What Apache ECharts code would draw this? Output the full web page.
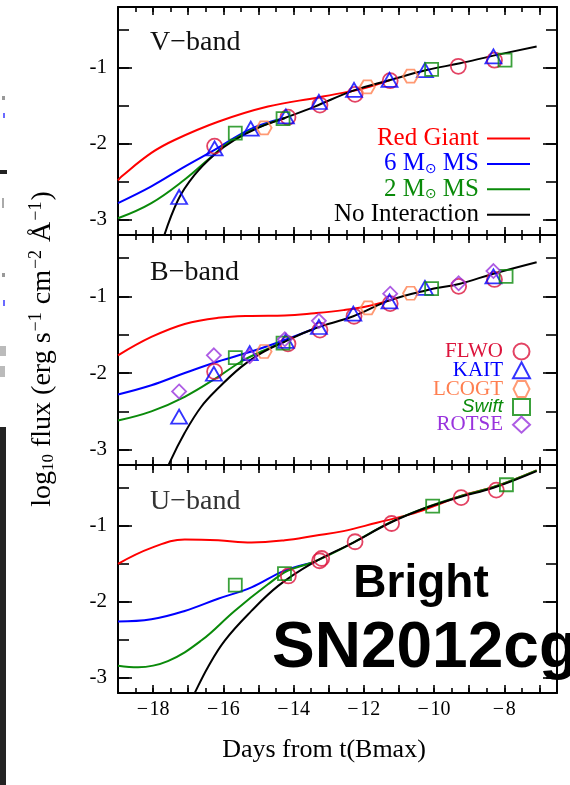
<!DOCTYPE html>
<html><head><meta charset="utf-8">
<script src="https://cdn.jsdelivr.net/npm/echarts@6/dist/echarts.min.js"></script>
<style>html,body{margin:0;padding:0;background:#fff}#c{width:570px;height:785px}</style>
</head><body><div id="c"></div>
<script>
// ---------- data ----------
const xTickValues = [-18, -16, -14, -12, -10, -8];
const xTickText = ['−\u200A18', '−\u200A16', '−\u200A14', '−\u200A12', '−\u200A10', '−\u200A8'];
const yTickValues = [-1, -2, -3];
const yTickLabels = ['-1', '-2', '-3'];
const bandLabels = ['V−band', 'B−band', 'U−band'];
const modelNames = ['Red Giant', '6 M☉ MS', '2 M☉ MS', 'No Interaction'];
const instNames = ['FLWO', 'KAIT', 'LCOGT', 'Swift', 'ROTSE'];

// V band model curves [day, log10 flux]
const vRedGiant = [[-19,-2.48],[-18.9,-2.43],[-18.05,-2.12],[-17.39,-1.95],[-16.15,-1.71],[-14.73,-1.51],[-13.3,-1.39],[-12.5,-1.32],[-12.0,-1.27],[-11.25,-1.16]];
const vMS6 = [[-19,-2.78],[-18.05,-2.56],[-17.1,-2.30],[-16.25,-2.08],[-15.2,-1.80],[-14.25,-1.66]];
const vMS2 = [[-19,-2.98],[-18.05,-2.78],[-17.1,-2.47],[-16.44,-2.21],[-15.87,-1.99],[-15.2,-1.82],[-14.25,-1.66]];
const vNoInt = [[-17.75,-3.3],[-17.29,-2.74],[-16.82,-2.41],[-16.25,-2.14],[-15.68,-1.95],[-15.01,-1.79],[-14.25,-1.66],[-13.4,-1.51],[-12.3,-1.30],[-11.25,-1.16],[-10.21,-1.03],[-9.26,-0.94],[-8.31,-0.84],[-7.08,-0.72]];
// B band
const bRedGiant = [[-19,-1.77],[-18.05,-1.53],[-17.1,-1.36],[-16.15,-1.28],[-15.2,-1.255],[-14.25,-1.25],[-13.4,-1.22],[-12.58,-1.18],[-11.9,-1.13],[-11.25,-1.05]];
const bMS6 = [[-19,-2.28],[-18.05,-2.16],[-17.1,-2.0],[-16.15,-1.85],[-15.2,-1.72],[-14.25,-1.57],[-13.4,-1.42]];
const bMS2 = [[-19,-2.62],[-18.05,-2.50],[-17.1,-2.31],[-16.15,-2.05],[-15.49,-1.85],[-14.92,-1.72],[-14.25,-1.59]];
const bNoInt = [[-17.62,-3.3],[-17.53,-3.17],[-17.1,-2.78],[-16.63,-2.44],[-16.15,-2.20],[-15.49,-1.92],[-14.92,-1.74],[-14.25,-1.59],[-13.4,-1.42],[-12.3,-1.26],[-11.25,-1.05],[-10.21,-0.92],[-9.26,-0.835],[-8.31,-0.705],[-7.08,-0.555]];
// U band
const uRedGiant = [[-19,-1.50],[-18.05,-1.29],[-17.1,-1.18],[-16.15,-1.19],[-15.2,-1.22],[-14.25,-1.19],[-13.4,-1.13],[-12.58,-1.07],[-11.63,-0.96],[-10.69,-0.85],[-10.0,-0.74],[-9.26,-0.61],[-8.31,-0.49],[-7.08,-0.27]];
const uMS6 = [[-19,-2.26],[-18.05,-2.23],[-17.1,-2.12],[-16.15,-1.96],[-15.2,-1.81],[-14.25,-1.59],[-13.4,-1.48]];
const uMS2 = [[-19,-2.84],[-18.43,-2.86],[-17.58,-2.78],[-16.63,-2.51],[-15.68,-2.12],[-14.73,-1.77],[-14.16,-1.59],[-13.4,-1.47],[-12.3,-1.22],[-11.25,-0.955],[-10.21,-0.755],[-9.26,-0.61],[-8.31,-0.49],[-7.08,-0.27]];
const uNoInt = [[-16.95,-3.32],[-16.86,-3.24],[-16.44,-2.86],[-15.96,-2.51],[-15.2,-2.12],[-14.44,-1.79],[-13.5,-1.50],[-12.3,-1.22],[-11.25,-0.96],[-10.21,-0.76],[-9.26,-0.62],[-8.31,-0.50],[-7.08,-0.28]];

// observations
const vFLWO = [[-16.25,-2.03],[-14.16,-1.65],[-13.25,-1.49],[-12.25,-1.35],[-11.25,-1.17],[-9.31,-0.98],[-8.28,-0.90]];
const vKAIT = [[-17.26,-2.70],[-16.25,-2.06],[-15.22,-1.80],[-14.22,-1.64],[-13.28,-1.45],[-12.28,-1.29],[-11.27,-1.16],[-10.26,-1.03],[-8.31,-0.85]];
const vLCOGT = [[-14.84,-1.79],[-11.9,-1.25],[-10.67,-1.11]];
const vSwift = [[-15.66,-1.86],[-14.3,-1.67],[-10.07,-1.02],[-7.98,-0.90]];
const vROTSE = [];
const bFLWO = [[-16.25,-1.98],[-14.16,-1.62],[-13.25,-1.44],[-12.28,-1.26],[-11.25,-1.095],[-9.3,-0.87],[-8.28,-0.78]];
const bKAIT = [[-17.26,-2.57],[-16.27,-2.01],[-15.25,-1.74],[-14.22,-1.58],[-13.28,-1.40],[-12.3,-1.225],[-11.27,-1.065],[-10.26,-0.89],[-8.31,-0.74]];
const bLCOGT = [[-14.84,-1.72],[-11.88,-1.15],[-10.67,-0.96]];
const bSwift = [[-15.66,-1.80],[-14.3,-1.61],[-10.07,-0.90],[-7.95,-0.74]];
const bROTSE = [[-17.26,-2.24],[-16.27,-1.77],[-15.25,-1.78],[-14.25,-1.56],[-13.28,-1.32],[-11.25,-0.965],[-9.3,-0.83],[-8.31,-0.67]];
const uFLWO = [[-14.15,-1.66],[-13.26,-1.46],[-13.2,-1.43],[-12.25,-1.21],[-11.21,-0.97],[-9.23,-0.63],[-8.23,-0.53]];
const uKAIT = [];
const uLCOGT = [];
const uSwift = [[-15.66,-1.78],[-14.26,-1.63],[-10.04,-0.74],[-7.94,-0.46]];
const uROTSE = [];

// ---------- styling ----------
const modelColors = ['#ff0000', '#0000ff', '#0a8a0a', '#000000'];
const instColors = ['#dc143c', '#0000ff', '#ff7f50', '#0a8a0a', '#9933dd'];
const instSymbols = ['circle', 'triangle', 'path://M25,0 L75,0 L100,50 L75,100 L25,100 L0,50 Z', 'rect', 'diamond'];
const instSizes = [15, [16, 14], [15, 13], 13, 14];
const SERIF = '"Liberation Serif", "Times New Roman", serif';

const models = [[vRedGiant, vMS6, vMS2, vNoInt], [bRedGiant, bMS6, bMS2, bNoInt], [uRedGiant, uMS6, uMS2, uNoInt]];
const obs = [[vFLWO, vKAIT, vLCOGT, vSwift, vROTSE], [bFLWO, bKAIT, bLCOGT, bSwift, bROTSE], [uFLWO, uKAIT, uLCOGT, uSwift, uROTSE]];

const grids = [
  {left: 118, right: 13, top: 7, height: 228},
  {left: 118, right: 13, top: 235, height: 230},
  {left: 118, right: 13, top: 465, height: 228}
];

function xAxis(g, pos, major, labels) {
  return {
    type: 'value', gridIndex: g, position: pos, min: -19, max: -6.5, interval: major ? 1 : 0.5,
    axisLine: {show: major, onZero: false, lineStyle: {color: '#000', width: 2}},
    axisTick: {show: true, inside: true, length: major ? 8 : 5, lineStyle: {color: '#000', width: 1.6}},
    axisLabel: {show: labels, margin: 7, color: '#000', fontFamily: SERIF, fontSize: 20,
      formatter: v => { const i = xTickValues.findIndex(t => Math.abs(t - v) < 1e-6); return i >= 0 ? xTickText[i] : ''; }},
    splitLine: {show: false}
  };
}
function yAxis(g, pos, major, labels) {
  return {
    type: 'value', gridIndex: g, position: pos, min: -3.2, max: -0.2, splitNumber: major ? 3 : 6,
    axisLine: {show: major, onZero: false, lineStyle: {color: '#000', width: 2}},
    axisTick: {show: true, inside: true, length: major ? 14 : 11, lineStyle: {color: '#000', width: 1.6}},
    axisLabel: {show: labels, margin: 11, color: '#000', fontFamily: SERIF, fontSize: 21,
      formatter: v => { const i = yTickValues.findIndex(t => Math.abs(t - v) < 1e-6); return i >= 0 ? yTickLabels[i] : ''; }},
    splitLine: {show: false}
  };
}

const xAxes = [], yAxes = [], series = [];
for (let p = 0; p < 3; p++) {
  xAxes.push(xAxis(p, 'bottom', true, p === 2), xAxis(p, 'bottom', false, false), xAxis(p, 'top', true, false), xAxis(p, 'top', false, false));
  yAxes.push(yAxis(p, 'left', true, true), yAxis(p, 'left', false, false), yAxis(p, 'right', true, false), yAxis(p, 'right', false, false));
  models[p].forEach((d, m) => {
    series.push({
      type: 'line', name: modelNames[m], xAxisIndex: p * 4, yAxisIndex: p * 4, data: d,
      smooth: 0.4, showSymbol: false, symbol: 'none', silent: true, clip: true,
      color: modelColors[m], lineStyle: {color: modelColors[m], width: 2}, itemStyle: {color: modelColors[m]}, z: 2 + m * 0.1
    });
  });
  obs[p].forEach((d, k) => {
    series.push({
      type: 'scatter', name: instNames[k], xAxisIndex: p * 4, yAxisIndex: p * 4, data: d,
      symbol: instSymbols[k], symbolSize: instSizes[k], silent: true, clip: true,
      itemStyle: {color: 'rgba(0,0,0,0)', borderColor: instColors[k], borderWidth: 1.8}, z: 3
    });
  });
}

const graphics = [
  // y-axis title
  {type: 'text', x: 43, y: 349, rotation: Math.PI / 2, style: {
    text: 'log{sub|10} flux (erg s{sup|−1} cm{sup|−2} Å{sup|−1})',
    font: '28px ' + SERIF, fill: '#000', textAlign: 'center', textVerticalAlign: 'middle',
    rich: {sub: {fontSize: 17, fontFamily: SERIF, padding: [12, 0, 0, 0]}, sup: {fontSize: 18, fontFamily: SERIF, padding: [0, 1, 13, 1]}}
  }},
  // x-axis title
  {type: 'text', x: 324, y: 750, style: {text: 'Days from t(Bmax)', font: '26px ' + SERIF, fill: '#000', textAlign: 'center', textVerticalAlign: 'middle'}},
  // overlay annotation
  {type: 'text', x: 421, y: 584, z: 100, style: {text: 'Bright', font: 'bold 46px "Liberation Sans", Arial, sans-serif', fill: '#000', textAlign: 'center', textVerticalAlign: 'middle'}},
  {type: 'text', x: 272, y: 649, z: 100, style: {text: 'SN2012cg', font: 'bold 64px "Liberation Sans", Arial, sans-serif', fill: '#000', textAlign: 'left', textVerticalAlign: 'middle'}},
  // cropped slide remnants on the left
  {type: 'rect', shape: {x: 0, y: 427, width: 6, height: 358}, style: {fill: '#232323'}},
  {type: 'rect', shape: {x: 0, y: 170, width: 7, height: 4}, style: {fill: '#222'}},
  {type: 'rect', shape: {x: 2, y: 96, width: 3, height: 4}, style: {fill: '#999'}},
  {type: 'rect', shape: {x: 2, y: 273, width: 3, height: 4}, style: {fill: '#999'}},
  {type: 'rect', shape: {x: 3, y: 113, width: 2, height: 5}, style: {fill: '#6a6aff'}},
  {type: 'rect', shape: {x: 3, y: 300, width: 2, height: 6}, style: {fill: '#6a6aff'}},
  {type: 'rect', shape: {x: 2, y: 198, width: 2, height: 10}, style: {fill: '#aaa'}},
  {type: 'rect', shape: {x: 0, y: 346, width: 6, height: 10}, style: {fill: '#bbb'}},
  {type: 'rect', shape: {x: 0, y: 366, width: 5, height: 11}, style: {fill: '#bbb'}}
];
bandLabels.forEach((t, i) => {
  graphics.push({type: 'text', x: 150, y: [43, 273, 502][i], style: {text: t, font: '28px ' + SERIF, fill: i === 2 ? '#333' : '#111', textAlign: 'left', textVerticalAlign: 'middle'}});
});

const option = {
  animation: false,
  backgroundColor: '#fff',
  grid: grids,
  xAxis: xAxes,
  yAxis: yAxes,
  series: series,
  legend: [
    {
      orient: 'vertical', align: 'right', right: 40, top: 126, padding: 0, itemGap: 0.4,
      icon: 'rect', itemWidth: 43, itemHeight: 2, selectedMode: false,
      data: modelNames.map((n, i) => ({name: n, textStyle: {color: modelColors[i]}})),
      formatter: n => n === '6 M☉ MS' ? '6 M{sb|⊙} MS' : (n === '2 M☉ MS' ? '2 M{sg|⊙} MS' : n),
      textStyle: {fontFamily: SERIF, fontSize: 25, lineHeight: 24, padding: [0, 3, 0, 0],
        rich: {sb: {fontSize: 14, color: '#0000ff', fontFamily: 'DejaVu Sans', padding: [10, 0, 0, 0]},
               sg: {fontSize: 14, color: '#0a8a0a', fontFamily: 'DejaVu Sans', padding: [10, 0, 0, 0]}}}
    },
    {
      orient: 'vertical', align: 'right', right: 39, top: 341, padding: 0, itemGap: -2.2,
      itemWidth: 17, itemHeight: 16, selectedMode: false,
      data: instNames.map((n, i) => ({name: n, textStyle: {color: instColors[i]}})),
      formatter: n => n === 'Swift' ? '{it|Swift}' : n,
      textStyle: {fontFamily: SERIF, fontSize: 21, padding: [0, 5, 0, 0],
        rich: {it: {fontFamily: '"Liberation Sans", Arial, sans-serif', fontStyle: 'italic', fontSize: 19, color: '#0a8a0a'}}}
    }
  ],
  graphic: graphics
};
const chart = echarts.init(document.getElementById('c'), null, {renderer: 'canvas', width: 570, height: 785});
chart.setOption(option);
</script></body></html>
